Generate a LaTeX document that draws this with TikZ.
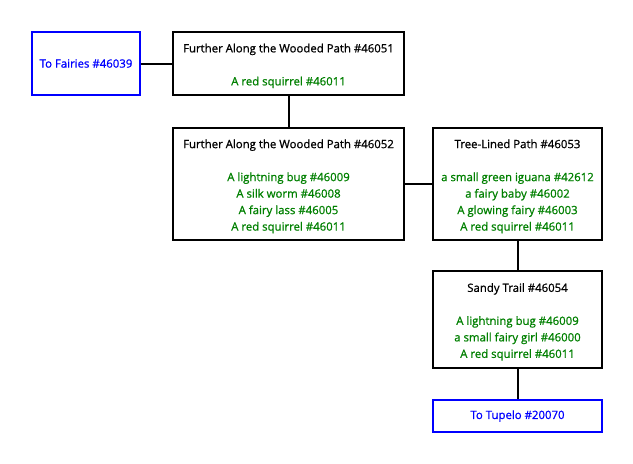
\documentclass[tikz,border=0pt]{standalone}
\usepackage{fontspec}
\setmainfont{Open Sans}
\newfontfamily\medfont{Open Sans}[FakeBold=0.9]
\definecolor{itemgreen}{RGB}{0,128,0}
\definecolor{exitblue}{RGB}{0,0,255}
\tikzset{
  room/.style={draw=black, line width=2pt, fill=white, align=center, inner sep=0pt,
    font=\medfont\fontsize{11.4}{16.5}\selectfont},
  exitbox/.style={draw=exitblue, line width=2pt, fill=white, align=center, inner sep=0pt,
    text=exitblue, font=\medfont\fontsize{11.4}{16.5}\selectfont},
  conn/.style={line width=2pt, draw=black},
}
\newcommand{\itm}[1]{\textcolor{itemgreen}{#1}}
\newcommand{\tstrut}{\rule{0pt}{13.5pt}}
\begin{document}
\begin{tikzpicture}[x=1pt,y=-1pt]
\useasboundingbox (0,0) rectangle (633,464);
\node[exitbox, minimum width=108pt, minimum height=63pt] (fairies) at (86,63.5) {To Fairies \#46039};
\node[room, minimum width=231pt, minimum height=63pt] (r51) at (288.5,63.5) {\tstrut Further Along the Wooded Path \#46051\\ \\ \itm{A red squirrel \#46011}};
\node[room, minimum width=231pt, minimum height=112pt] (r52) at (288.5,184) {\tstrut Further Along the Wooded Path \#46052\\ \\ \itm{A lightning bug \#46009}\\ \itm{A silk worm \#46008}\\ \itm{A fairy lass \#46005}\\ \itm{A red squirrel \#46011}};
\node[room, minimum width=169pt, minimum height=112pt] (r53) at (517.5,184) {\tstrut Tree-Lined Path \#46053\\ \\ \itm{a small green iguana \#42612}\\ \itm{a fairy baby \#46002}\\ \itm{A glowing fairy \#46003}\\ \itm{A red squirrel \#46011}};
\node[room, minimum width=169pt, minimum height=97pt] (r54) at (517.5,319.5) {\tstrut Sandy Trail \#46054\\ \\ \itm{A lightning bug \#46009}\\ \itm{a small fairy girl \#46000}\\ \itm{A red squirrel \#46011}};
\node[exitbox, minimum width=169pt, minimum height=32pt] (tupelo) at (517.5,416) {To Tupelo \#20070};
\draw[conn] (fairies.east) -- (r51.west);
\draw[conn] (r51.south) -- (r52.north);
\draw[conn] (r52.east) -- (r53.west);
\draw[conn] (r53.south) -- (r54.north);
\draw[conn] (r54.south) -- (tupelo.north);
\end{tikzpicture}
\end{document}
